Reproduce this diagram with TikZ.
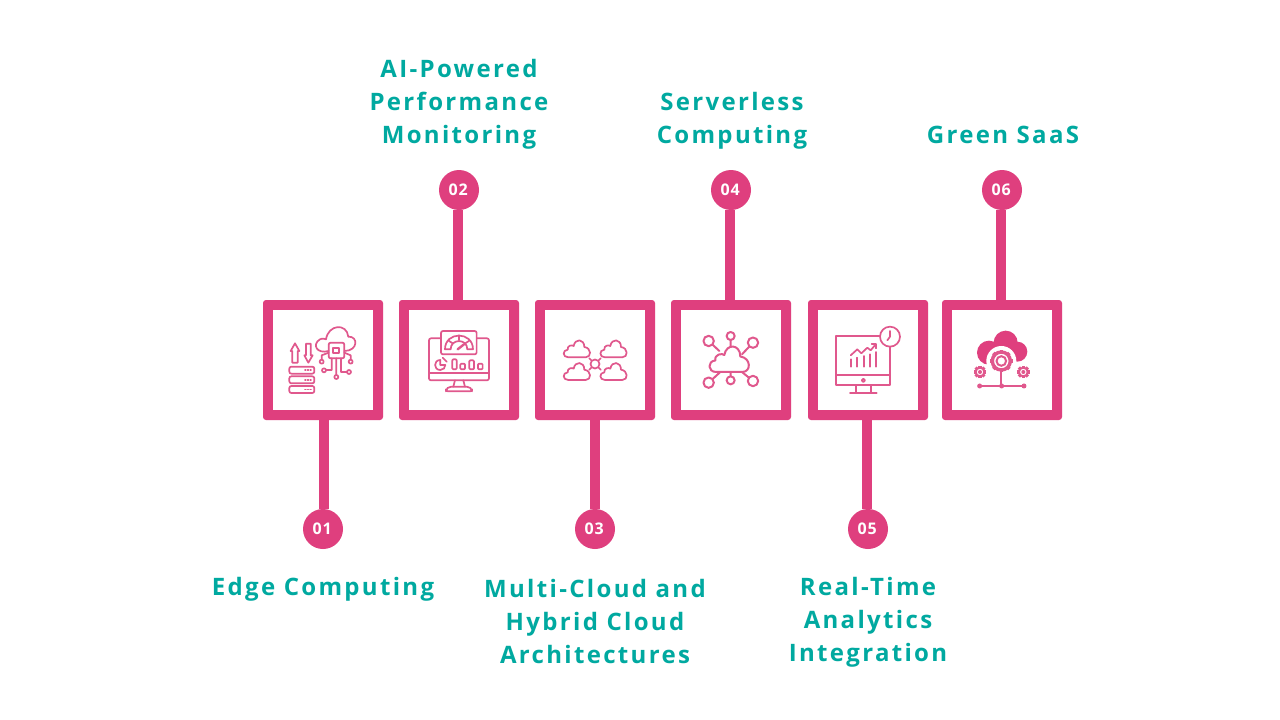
\documentclass[tikz,border=0pt]{standalone}
\usepackage{fontspec}
\newfontfamily\labfam[LetterSpace=9.7]{Open Sans}
\newfontfamily\numfam[LetterSpace=5]{Open Sans}
\definecolor{pinkm}{HTML}{DF3F7E}
\definecolor{pinki}{HTML}{E0588D}
\definecolor{tealm}{HTML}{00A9A0}
\tikzset{
  outerbox/.style={fill=pinkm,rounded corners=3pt,minimum size=120pt,inner sep=0pt,outer sep=0pt},
  innerbox/.style={fill=white,minimum size=100pt,inner sep=0pt,outer sep=0pt},
  badge/.style={circle,fill=pinkm,minimum size=40pt,inner sep=0pt,outer sep=0pt,text=white,font=\numfam\bfseries\fontsize{16}{16}\selectfont},
  conn/.style={draw=pinkm,line width=10pt},
  label/.style={align=center,text=tealm,inner sep=0pt,font=\labfam\bfseries\fontsize{24}{33}\selectfont},
  ic/.style={draw=pinki,line width=1.7pt,line join=round,line cap=round},
  iconzoom/.style n args={2}{xshift=#1pt,yshift=-#2pt,x=.3333pt,y=-.3333pt},
}
\newcommand{\cloudp}[3]{% centre x, y, scale
  (#1-26*#3,#2+26*#3) .. controls (#1-44*#3,#2+26*#3) and (#1-44*#3,#2+4*#3) .. (#1-28*#3,#2+3*#3)
  .. controls (#1-30*#3,#2-10*#3) and (#1-14*#3,#2-12*#3) .. (#1-10*#3,#2-8*#3)
  .. controls (#1-6*#3,#2-32*#3) and (#1+22*#3,#2-30*#3) .. (#1+22*#3,#2-5*#3)
  .. controls (#1+44*#3,#2-2*#3) and (#1+44*#3,#2+26*#3) .. (#1+26*#3,#2+26*#3) -- cycle}
\newcommand{\gearp}[4]{% x y r teeth-length: teeth then ring
  \foreach \a in {0,45,...,315}{
    \draw[pinki,line width=#4*.45pt] ({#1+#3*cos(\a)},{#2+#3*sin(\a)}) -- ({#1+(#3+#4)*cos(\a)},{#2+(#3+#4)*sin(\a)});
  }
}
\begin{document}
\begin{tikzpicture}[x=1pt,y=-1pt]
\useasboundingbox[fill=white] (0,0) rectangle (1280,720);
\foreach \n/\x in {1/323,2/459,3/595,4/731,5/868,6/1002}{
  \node[outerbox] (b\n) at (\x,360) {};
}
\node[badge] (c1) at (323,529) {\kern-1.5pt 01};
\node[badge] (c2) at (459,190) {\kern-1.5pt 02};
\node[badge] (c3) at (595,529) {\kern-1.5pt 03};
\node[badge] (c4) at (731,190) {\kern-1.5pt 04};
\node[badge] (c5) at (868,529) {\kern-1.5pt 05};
\node[badge] (c6) at (1002,190) {\kern-1.5pt 06};
\draw[conn] ([xshift=1pt]b1.south) -- ([xshift=1pt]c1.north);
\draw[conn] ([xshift=-1pt]b2.north) -- ([xshift=-1pt]c2.south);
\draw[conn] (b3.south) -- (c3.north);
\draw[conn] ([xshift=-1pt]b4.north) -- ([xshift=-1pt]c4.south);
\draw[conn] ([xshift=-1pt]b5.south) -- ([xshift=-1pt]c5.north);
\draw[conn] ([xshift=-1pt]b6.north) -- ([xshift=-1pt]c6.south);
\foreach \n/\x in {1/323,2/459,3/595,4/731,5/868,6/1002}{
  \node[innerbox] (w\n) at (\x,360) {};
}
\node[label] (t1) at (323,589) {Edge Computing};
\node[label] (t2) at (459,104) {AI-Powered\\Performance\\Monitoring};
\node[label] (t3) at (595,621) {Multi-Cloud and\\Hybrid Cloud\\Architectures};
\node[label] (t4) at (732,121) {Serverless\\Computing};
\node[label] (t5) at (868,622) {Real-Time\\Analytics\\Integration};
\node[label] (t6) at (1003,134.5) {Green SaaS};

% icon 1
\begin{scope}[iconzoom={260}{296}]
\draw[ic] (97,200)--(113,200)--(113,165)--(118,165)--(105,142)--(92,165)--(97,165)--cycle;
\draw[ic] (138,143)--(152,143)--(152,178)--(158,178)--(145,200)--(133,178)--(138,178)--cycle;
\foreach \y in {212,241,270}{
  \draw[ic,rounded corners=2pt] (88,\y) rectangle (163,\y+21);
  \draw[ic] (135,\y+10.5)--(137,\y+10.5) (143,\y+10.5)--(145,\y+10.5) (151,\y+10.5)--(153,\y+10.5);
}
\draw[ic] (206,165) .. controls (170,175) and (155,145) .. (180,130)
  .. controls (190,125) and (195,130) .. (198,130)
  .. controls (205,85) and (260,80) .. (265,122)
  .. controls (295,120) and (295,165) .. (253,165);
\draw[ic,rounded corners=2pt] (206,140) rectangle (253,187);
\draw[ic] (220,155) rectangle (238,172);
\draw[ic] (229,187)--(229,237) (215,187)--(215,222)--(198,222) (243,187)--(243,228)--(261,228)
  (206,170)--(185,178)--(185,191) (253,170)--(272,178)--(272,191);
\foreach \x/\y in {229/243,192/223,267/228,185/197,272/197}{
  \draw[ic] (\x,\y) circle[radius=2pt];
}
\end{scope}

% icon 2
\begin{scope}[iconzoom={260}{296}]
\draw[ic,rounded corners=2pt] (507,127) rectangle (687,253);
\draw[ic] (507,232)--(687,232);
\draw[ic,fill=white,rounded corners=2pt] (543,105) rectangle (650,175);
\draw[ic] (555,160) .. controls (555,105) and (639,105) .. (639,160) -- (622,160)
  .. controls (622,127) and (572,127) .. (572,160) -- cycle;
\draw[ic] (566,134)--(578,142) (597,118)--(597,133) (628,134)--(616,142);
\draw[ic,line width=2.4pt] (593,160)--(612,145);
\draw[ic] (541,192) .. controls (520,192) and (520,222) .. (541,222) .. controls (550,222) and (556,215) .. (556,207) -- (541,207) -- cycle;
\draw[ic] (548,185)--(560,197);
\draw[ic,rounded corners=1pt] (577,190) rectangle (590,220);
\draw[ic,rounded corners=1pt] (601,203) rectangle (615,220);
\draw[ic,rounded corners=1pt] (628,193) rectangle (642,220);
\draw[ic,rounded corners=1pt] (654,203) rectangle (668,220);
\draw[ic] (585,253)--(580,272) (610,253)--(615,272);
\draw[ic,rounded corners=2pt] (558,286)--(558,280)--(568,272)--(626,272)--(636,280)--(636,286)--cycle;
\end{scope}

% icon 3
\begin{scope}[iconzoom={532}{296}]
\draw[ic] (172,187)--(206,221) (206,187)--(172,221);
\draw[ic,fill=white] \cloudp{135}{158}{1};
\draw[ic,fill=white] \cloudp{245}{158}{1};
\draw[ic,fill=white] \cloudp{135}{226}{1};
\draw[ic,fill=white] \cloudp{245}{226}{1};
\draw[ic,fill=white] (189,204) circle[radius=4.5pt];
\end{scope}

% icon 4
\begin{scope}[iconzoom={532}{296}]
\draw[ic,line width=2pt] (530,135)--(562,165) (596,120)--(596,150) (663,140)--(630,175)
  (530,260)--(565,228) (596,253)--(596,228) (663,255)--(630,228);
\draw[ic,line width=2pt,fill=white] \cloudp{592}{189}{1.5};
\foreach \x/\y/\r in {530/135/5.2,596/120/4,663/140/5.2,530/260/5.2,596/253/4,663/255/5.2}{
  \draw[ic,line width=2pt,fill=white] (\x,\y) circle[radius=\r pt];
}
\end{scope}

% icon 5
\begin{scope}[iconzoom={804}{296}]
\draw[ic] (97,120) rectangle (258,267);
\draw[ic] (97,237)--(258,237);
\draw[ic] (178,253) circle[radius=1.7pt];
\draw[ic] (155,267)--(155,291) (200,267)--(200,291) (138,291)--(218,291);
\draw[ic,fill=white] (258,122) circle[radius=10pt];
\draw[ic] (258,105)--(258,122)--(250,133);
\foreach \x/\y in {142/190,160/185,179/180,197/175,215/168}{
  \draw[ic] (\x,\y)--(\x,212);
}
\draw[ic] (140,178)--(160,160)--(172,172)--(190,155)--(200,163)--(215,145);
\draw[ic] (203,145)--(215,145)--(215,157);
\end{scope}

% icon 6
\begin{scope}[iconzoom={804}{296}]
\fill[pinkm] (555,170) circle[radius=12pt];
\fill[pinkm] (605,140) circle[radius=12pt];
\fill[pinkm] (640,167) circle[radius=10pt];
\fill[pinkm] (555,165) rectangle (640,196);
\fill[white] (592,195) circle[radius=15pt];
\gearp{592}{195}{26}{8}
\draw[pinki,line width=3.4pt,fill=white] (592,195) circle[radius=9pt];
\draw[pinki,line width=2pt] (592,195) circle[radius=4.8pt];
\draw[pinki,line width=1.8pt] (592,225)--(592,270) (527,270)--(660,270);
\foreach \x in {527,593,660}{\fill[pinki] (\x,270) circle[radius=2.5pt];}
\foreach \x in {528,658}{
  \gearp{\x}{228}{12}{7}
  \draw[pinki,line width=2pt,fill=white] (\x,228) circle[radius=4.4pt];
  \fill[pinki] (\x,228) circle[radius=2pt];
}
\end{scope}
\end{tikzpicture}
\end{document}
